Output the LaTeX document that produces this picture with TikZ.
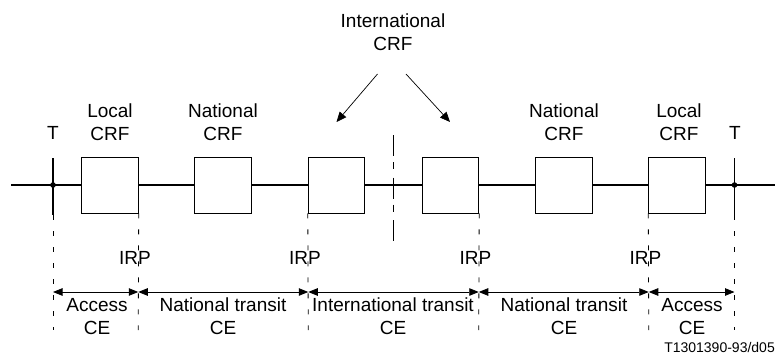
\documentclass[tikz,border=0pt]{standalone}
\usepackage{fontspec}
\setmainfont{Liberation Sans}
\usetikzlibrary{arrows.meta}
\begin{document}
\begin{tikzpicture}[x=1pt,y=-1pt,
  crf/.style={draw,line width=0.9pt,minimum width=56.5pt,minimum height=56pt,inner sep=0pt},
  lbl/.style={font=\fontsize{19}{23}\selectfont,align=center,inner sep=0pt,text depth=0pt,anchor=south},
  mainline/.style={line width=2pt},
  tick/.style={line width=1.8pt},
  guide/.style={line width=0.8pt,dash pattern=on 5pt off 11pt},
  centre/.style={line width=0.9pt,dash pattern=on 21pt off 6pt on 7pt off 8.5pt},
  dim/.style={line width=0.8pt,{Triangle[length=9.5pt,width=7.5pt]}-{Triangle[length=9.5pt,width=7.5pt]}},
  pointer/.style={line width=0.7pt,-{Triangle[length=10pt,width=8.5pt]}}]
\useasboundingbox (0,0) rectangle (777,361);
% boxes
\node[crf] (b1) at (110,185) {};
\node[crf] (b2) at (223,185) {};
\node[crf] (b3) at (336.5,185) {};
\node[crf] (b4) at (450.5,185) {};
\node[crf] (b5) at (564,185) {};
\node[crf] (b6) at (677,185) {};
% main line
\coordinate (L) at (11,185);
\coordinate (R) at (775,185);
\coordinate (tl) at (53,185);
\coordinate (tr) at (734.5,185);
\draw[mainline] (L) -- (b1.west);
\draw[mainline] (b1.east) -- (b2.west);
\draw[mainline] (b2.east) -- (b3.west);
\draw[mainline] (b3.east) -- (b4.west);
\draw[mainline] (b4.east) -- (b5.west);
\draw[mainline] (b5.east) -- (b6.west);
\draw[mainline] (b6.east) -- (R);
% T reference points
\coordinate (tlTop) at (53,158);
\coordinate (tlBot) at (53,215);
\coordinate (trTop) at (734.5,158);
\coordinate (trBot) at (734.5,215);
\draw[tick] (tlTop) -- (tlBot);
\draw[tick] (trTop) -- (trBot);
\fill (tl) circle (2.8pt);
\fill (tr) circle (2.8pt);
% labels above
\node[lbl] (tL) at (53,140) {T};
\node[lbl] (tR) at (735,140) {T};
\node[lbl] (n1) at (110,140.7) {Local\\CRF};
\node[lbl] (n2) at (223,140.7) {National\\CRF};
\node[lbl] (n5) at (564,140.7) {National\\CRF};
\node[lbl] (n6) at (679,140.7) {Local\\CRF};
\node[lbl] (intl) at (393,50.7) {International\\CRF};
% pointers
\coordinate (p1s) at (377.5,74);
\coordinate (p1e) at (336.5,122);
\coordinate (p2s) at (406,74);
\coordinate (p2e) at (450,122);
\draw[pointer] (p1s) -- (p1e);
\draw[pointer] (p2s) -- (p2e);
% centre dashed line
\coordinate (cTop) at (393.3,135);
\coordinate (cBot) at (393.3,243);
\draw[centre] (cTop) -- (cBot);
% guide lines
\coordinate (g0) at (53,330);
\coordinate (g1) at (138.25,330);
\coordinate (g2) at (308.25,330);
\coordinate (g3) at (478.75,330);
\coordinate (g4) at (648.75,330);
\coordinate (g5) at (734.5,330);
\draw[guide] (tlBot) -- (g0);
\draw[guide] (b1.south east) -- (g1);
\draw[guide] (b3.south west) -- (g2);
\draw[guide] (b4.south east) -- (g3);
\draw[guide] (b6.south west) -- (g4);
\draw[guide] (trBot) -- (g5);
% IRP labels
\node[lbl] (irp1) at (135,265) {IRP};
\node[lbl] (irp2) at (305,265) {IRP};
\node[lbl] (irp3) at (475.5,265) {IRP};
\node[lbl] (irp4) at (645.5,265) {IRP};
% dimension arrows
\coordinate (a0) at (53,292);
\coordinate (a1) at (138.25,292);
\coordinate (a2) at (308.25,292);
\coordinate (a3) at (478.75,292);
\coordinate (a4) at (648.75,292);
\coordinate (a5) at (734.5,292);
\draw[dim] (a0) -- (a1);
\draw[dim] (a1) -- (a2);
\draw[dim] (a2) -- (a3);
\draw[dim] (a3) -- (a4);
\draw[dim] (a4) -- (a5);
% CE labels
\node[lbl] (ce1) at (97,334.3) {Access\\CE};
\node[lbl] (ce2) at (223,334.3) {National transit\\CE};
\node[lbl] (ce3) at (393,334.3) {International transit\\CE};
\node[lbl] (ce4) at (564,334.3) {National transit\\CE};
\node[lbl] (ce5) at (692,334.3) {Access\\CE};
% figure id
\node[font=\fontsize{14}{16}\selectfont,inner sep=0pt,text depth=0pt,anchor=south east] (fid) at (775,353) {T1301390-93/d05};
\end{tikzpicture}
\end{document}
